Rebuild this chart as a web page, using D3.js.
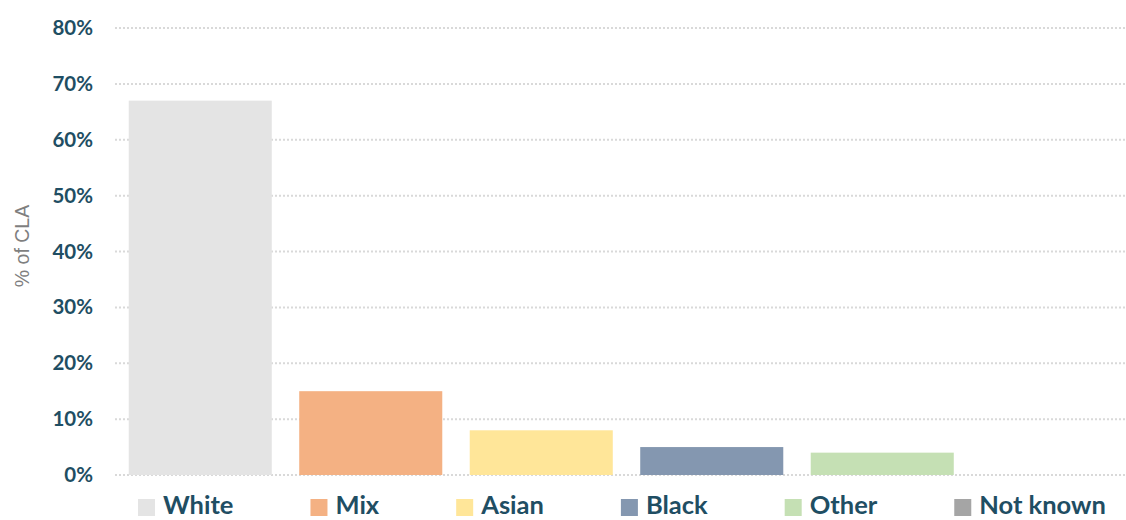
<!DOCTYPE html>
<html>
<head>
<meta charset="utf-8">
<script src="https://cdn.jsdelivr.net/npm/d3@7"></script>
<style>
  html, body { margin: 0; padding: 0; background: #fff; }
  svg { display: block; }
</style>
</head>
<body>
<svg id="chart" width="1126" height="520"></svg>
<script>
// Ethnicity breakdown of children looked after (CLA)
const categories = ["White", "Mix", "Asian", "Black", "Other", "Not known"];
const values = [67, 15, 8, 5, 4, 0];
const colors = ["#e4e4e4", "#f4b183", "#ffe699", "#8497b0", "#c5e0b4", "#a5a5a5"];
const yTicks = [0, 10, 20, 30, 40, 50, 60, 70, 80];

const svg = d3.select("#chart");
const textColor = "#1f4e63";

const x = d3.scaleBand()
  .domain(categories)
  .range([115, 1138])
  .paddingInner(0.161)
  .paddingOuter(0.0805);

const y = d3.scaleLinear().domain([0, 80]).range([475, 28]);

// dotted gridlines
svg.append("g")
  .selectAll("line")
  .data(yTicks)
  .join("line")
  .attr("x1", 115)
  .attr("x2", 1126)
  .attr("y1", d => y(d))
  .attr("y2", d => y(d))
  .attr("stroke", "#d9d9d9")
  .attr("stroke-width", 2)
  .attr("stroke-dasharray", "2,2");

// y axis tick labels
const yAxis = d3.axisLeft(y)
  .tickValues(yTicks)
  .tickFormat(d => d + "%")
  .tickSize(0)
  .tickPadding(0);

const yg = svg.append("g")
  .attr("transform", "translate(93,0)")
  .call(yAxis);
yg.select(".domain").remove();
yg.selectAll("text")
  .attr("fill", textColor)
  .style("font-family", "Lato, 'Open Sans', sans-serif")
  .style("font-weight", "bold")
  .style("font-size", "20.5px");

// axis title
svg.append("text")
  .attr("transform", "translate(29,246) rotate(-90)")
  .attr("text-anchor", "middle")
  .attr("fill", "#7f7f7f")
  .style("font-family", "'Liberation Sans', Arial, sans-serif")
  .style("font-size", "19.5px")
  .text("% of CLA");

// bars
svg.append("g")
  .selectAll("rect")
  .data(categories)
  .join("rect")
  .attr("x", d => x(d))
  .attr("width", x.bandwidth())
  .attr("y", (d, i) => y(values[i]))
  .attr("height", (d, i) => y(0) - y(values[i]))
  .attr("fill", (d, i) => colors[i]);

// legend laid out left to right using measured label widths
const legend = svg.append("g");
let lx = 138;
categories.forEach((c, i) => {
  const item = legend.append("g");
  item.append("rect")
    .attr("x", lx)
    .attr("y", 499)
    .attr("width", 17)
    .attr("height", 17)
    .attr("fill", colors[i]);
  const t = item.append("text")
    .attr("x", lx + 25)
    .attr("y", 514)
    .attr("fill", textColor)
    .style("font-family", "Lato, 'Open Sans', sans-serif")
    .style("font-weight", "bold")
    .style("font-size", "25.5px")
    .text(c);
  lx += 25 + t.node().getComputedTextLength() + 77;
});
</script>
</body>
</html>
